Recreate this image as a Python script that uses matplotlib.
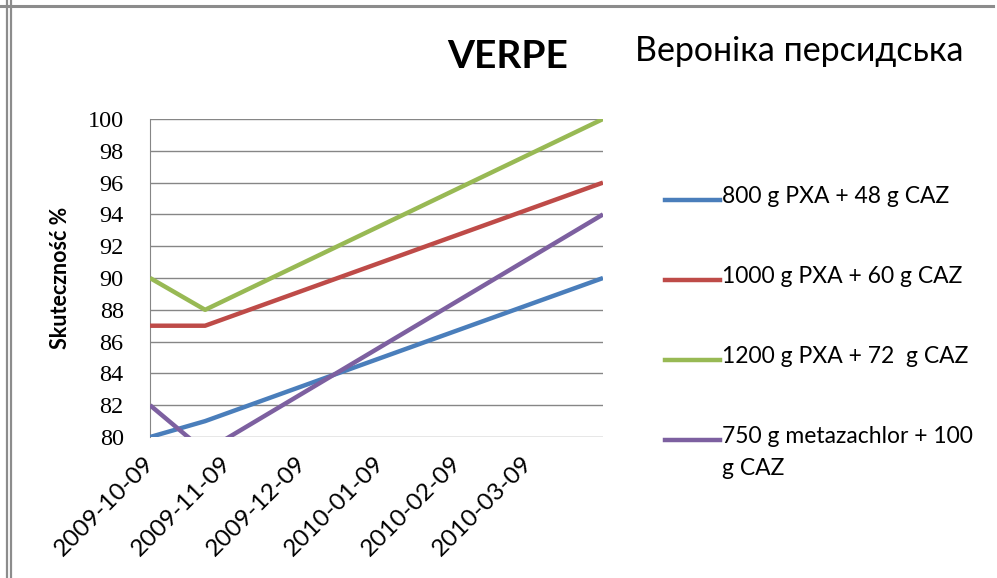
import matplotlib
matplotlib.use("Agg")
import matplotlib.pyplot as plt
import matplotlib.dates as mdates
import matplotlib.transforms as mtransforms
from matplotlib.lines import Line2D
import numpy as np

plt.rcParams['font.family'] = ['Lato', 'Open Sans', 'DejaVu Sans']

dates = np.array(['2009-10-09', '2009-10-31', '2010-04-08'], dtype='datetime64[D]')
tick_dates = np.array(['2009-10-09', '2009-11-09', '2009-12-09',
                       '2010-01-09', '2010-02-09', '2010-03-09'], dtype='datetime64[D]')

labels = ["800 g PXA + 48 g CAZ",
          "1000 g PXA + 60 g CAZ",
          "1200 g PXA + 72  g CAZ",
          "750 g metazachlor + 100\ng CAZ"]
blue = [80, 81, 90]
red = [87, 87, 96]
green = [90, 88, 100]
purple = [82, 79.1, 94]
series = [blue, red, green, purple]
colors = ['#4A7EBB', '#BE4B48', '#98B954', '#7D60A0']

fig = plt.figure(figsize=(9.97, 5.78), dpi=100)
ax = fig.add_axes([0.1505, 0.2439, 0.4543, 0.5502])

for vals, c in zip(series, colors):
    ax.plot(dates, vals, color=c, lw=3.2, solid_capstyle='butt', zorder=3)

ax.set_ylim(80, 100)
ax.set_yticks(range(80, 101, 2))
ax.set_xlim(dates[0], dates[-1])
ax.set_xticks(tick_dates)
ax.xaxis.set_major_formatter(mdates.DateFormatter('%Y-%m-%d'))
ax.grid(axis='y', color='#868686', lw=1)
ax.set_axisbelow(True)
for s in ['top', 'right', 'bottom']:
    ax.spines[s].set_visible(False)
ax.spines['left'].set_color('#868686')
ax.tick_params(length=0)
ax.tick_params(axis='y', pad=19)
plt.setp(ax.get_yticklabels(), family=['Liberation Serif', 'DejaVu Serif'], fontsize=17.5)
ax.tick_params(axis='x', pad=11)
shift = mtransforms.ScaledTranslation(-7 / 100, 0, fig.dpi_scale_trans)
for lbl in ax.get_xticklabels():
    lbl.set_rotation(45)
    lbl.set_ha('right')
    lbl.set_va('top')
    lbl.set_rotation_mode('anchor')
    lbl.set_fontsize(17.5)
    lbl.set_transform(lbl.get_transform() + shift)
ax.set_ylabel("Skuteczność %", fontsize=15.5, fontweight='bold', labelpad=12)

fig.text(0.509, 0.903, "VERPE", fontsize=28, fontweight='bold', ha='center', va='center')
fig.text(0.637, 0.912, "Вероніка персидська", fontsize=24.5, ha='left', va='center')

# legend drawn by hand so the handle lines up with the first text line
leg_y = [0.654, 0.516, 0.377, 0.239]
for lab, c, y in zip(labels, colors, leg_y):
    fig.add_artist(Line2D([0.667, 0.722], [y, y], color=c, lw=3.2,
                          transform=fig.transFigure))
    fig.text(0.724, y + 0.024, lab, fontsize=16.5, ha='left', va='top',
             linespacing=1.65)

# page frame
fig.add_artist(Line2D([0, 0.996], [0.9895, 0.9895], color='#8c8c8c', lw=2.2,
                      transform=fig.transFigure))
for x in [0.0075, 0.011]:
    fig.add_artist(Line2D([x, x], [0, 1], color='#8c8c8c', lw=1.6,
                          transform=fig.transFigure))

fig.savefig("out.png", dpi=100)
